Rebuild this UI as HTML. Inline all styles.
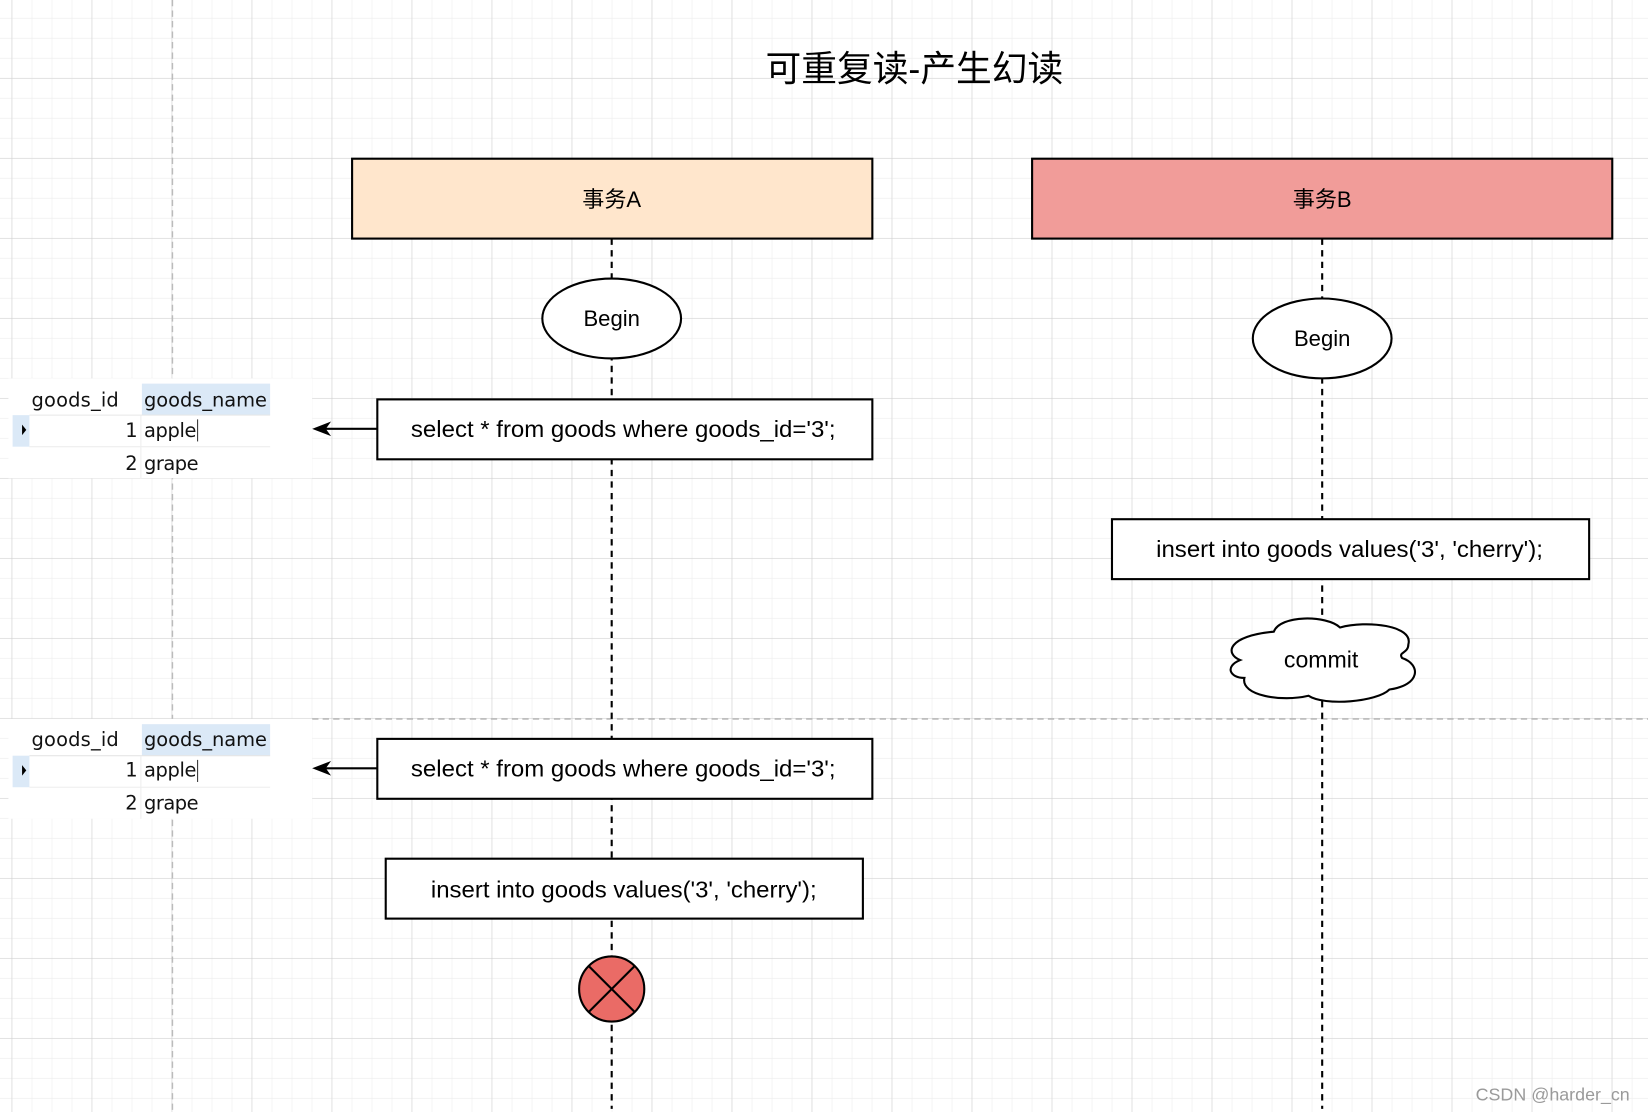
<!DOCTYPE html>
<html><head><meta charset="utf-8"><style>
html,body{margin:0;padding:0;background:#fff;overflow:hidden}
svg{display:block}
text{font-family:"Liberation Sans","Noto Sans CJK SC",sans-serif;fill:#000}
.t{font-family:"DejaVu Sans","Liberation Sans",sans-serif;font-size:18.5px;fill:#111}
</style></head><body>
<svg width="1648" height="1112" viewBox="0 0 1568 1058" preserveAspectRatio="none" xmlns="http://www.w3.org/2000/svg">
<defs>
<pattern id="mi" x="11.1" y="17" width="19.03" height="19.03" patternUnits="userSpaceOnUse">
<path d="M0 0H19.03M0 0V19.03" stroke="#efefef" stroke-width="1.3" fill="none"/></pattern>
<pattern id="ma" x="11.1" y="74.2" width="76.12" height="76.12" patternUnits="userSpaceOnUse">
<path d="M0 0H76.12M0 0V76.12" stroke="#cfcfcf" stroke-width="1" fill="none"/></pattern>
</defs>
<rect width="1568" height="1058" fill="url(#mi)"/>
<rect width="1568" height="1058" fill="url(#ma)"/>
<line x1="164" y1="0" x2="164" y2="1058" stroke="#bbb" stroke-width="1.5" stroke-dasharray="6,4"/>
<line x1="297" y1="684" x2="1568" y2="684" stroke="#bbb" stroke-width="1.5" stroke-dasharray="6,4"/>

<text x="870" y="77" font-size="34" text-anchor="middle">可重复读-产生幻读</text>

<line x1="582" y1="227" x2="582" y2="1055" stroke="#000" stroke-width="2" stroke-dasharray="6,5"/>
<line x1="1258" y1="227" x2="1258" y2="1055" stroke="#000" stroke-width="2" stroke-dasharray="6,5"/>

<rect x="335" y="151" width="495" height="76" fill="#ffe6cc" stroke="#000" stroke-width="2"/>
<text x="582" y="197" font-size="21" text-anchor="middle">事务A</text>
<rect x="982" y="151" width="552" height="76" fill="#f19c99" stroke="#000" stroke-width="2"/>
<text x="1258" y="197" font-size="21" text-anchor="middle">事务B</text>

<ellipse cx="582" cy="303" rx="66" ry="38" fill="#fff" stroke="#000" stroke-width="2"/>
<text x="582" y="310" font-size="21" text-anchor="middle">Begin</text>
<ellipse cx="1258" cy="322" rx="66" ry="38" fill="#fff" stroke="#000" stroke-width="2"/>
<text x="1258" y="329" font-size="21" text-anchor="middle">Begin</text>

<rect x="359" y="380" width="471" height="57" fill="#fff" stroke="#000" stroke-width="2"/>
<text x="391" y="416" font-size="22" textLength="404" lengthAdjust="spacingAndGlyphs">select * from goods where goods_id='3';</text>
<line x1="359" y1="408" x2="300" y2="408" stroke="#000" stroke-width="2"/>
<path d="M297 408 L315 401 L310 408 L315 415Z" fill="#000"/>

<rect x="1058" y="494" width="454" height="57" fill="#fff" stroke="#000" stroke-width="2"/>
<text x="1100" y="530" font-size="22" textLength="368" lengthAdjust="spacingAndGlyphs">insert into goods values('3', 'cherry');</text>

<path d="M1212 601 C1218 585,1262 585,1275 597 C1300 590,1345 595,1340 613 C1340 622,1330 620,1334 626 C1352 632,1352 652,1322 656 C1310 668,1260 672,1245 662 C1220 668,1180 662,1184 645 C1170 645,1165 634,1180 628 C1165 622,1168 605,1212 601 Z" fill="#fff" stroke="#000" stroke-width="2"/>
<text x="1257" y="635" font-size="22" text-anchor="middle">commit</text>

<rect x="359" y="703" width="471" height="57" fill="#fff" stroke="#000" stroke-width="2"/>
<text x="391" y="739" font-size="22" textLength="404" lengthAdjust="spacingAndGlyphs">select * from goods where goods_id='3';</text>
<line x1="359" y1="731" x2="300" y2="731" stroke="#000" stroke-width="2"/>
<path d="M297 731 L315 724 L310 731 L315 738Z" fill="#000"/>

<rect x="367" y="817" width="454" height="57" fill="#fff" stroke="#000" stroke-width="2"/>
<text x="410" y="854" font-size="22" textLength="367" lengthAdjust="spacingAndGlyphs">insert into goods values('3', 'cherry');</text>

<circle cx="582" cy="941" r="31" fill="#ea6b66" stroke="#000" stroke-width="2"/>
<line x1="560" y1="919" x2="604" y2="963" stroke="#000" stroke-width="2"/>
<line x1="604" y1="919" x2="560" y2="963" stroke="#000" stroke-width="2"/>

<g>
<rect x="8" y="360" width="289" height="95" fill="#fff"/>
<rect x="135" y="365" width="122" height="30" fill="#dbe9f7"/>
<rect x="12" y="395" width="16" height="30" fill="#dbe9f7"/>
<line x1="28" y1="395" x2="257" y2="395" stroke="#e6e6e6"/>
<line x1="28" y1="425" x2="257" y2="425" stroke="#eee"/>
<line x1="134" y1="395" x2="134" y2="455" stroke="#eee"/>
<text class="t" x="30" y="387" textLength="83">goods_id</text>
<text class="t" x="137" y="387" textLength="117">goods_name</text>
<path d="M21 404 L25 409 L21 414Z" fill="#000"/>
<text class="t" x="131" y="416" text-anchor="end">1</text>
<text class="t" x="137" y="416" textLength="50">apple</text>
<line x1="188" y1="399" x2="188" y2="420" stroke="#333"/>
<text class="t" x="131" y="447" text-anchor="end">2</text>
<text class="t" x="137" y="447" textLength="52">grape</text>
</g>
<g transform="translate(0,324)">
<rect x="8" y="360" width="289" height="95" fill="#fff"/>
<rect x="135" y="365" width="122" height="30" fill="#dbe9f7"/>
<rect x="12" y="395" width="16" height="30" fill="#dbe9f7"/>
<line x1="28" y1="395" x2="257" y2="395" stroke="#e6e6e6"/>
<line x1="28" y1="425" x2="257" y2="425" stroke="#eee"/>
<line x1="134" y1="395" x2="134" y2="455" stroke="#eee"/>
<text class="t" x="30" y="386" textLength="83">goods_id</text>
<text class="t" x="137" y="386" textLength="117">goods_name</text>
<path d="M21 404 L25 409 L21 414Z" fill="#000"/>
<text class="t" x="131" y="415" text-anchor="end">1</text>
<text class="t" x="137" y="415" textLength="50">apple</text>
<line x1="188" y1="399" x2="188" y2="420" stroke="#333"/>
<text class="t" x="131" y="446" text-anchor="end">2</text>
<text class="t" x="137" y="446" textLength="52">grape</text>
</g>

<text x="1404" y="1047" font-size="17" style="fill:#9a9a9a">CSDN @harder_cn</text>
</svg>
</body></html>
